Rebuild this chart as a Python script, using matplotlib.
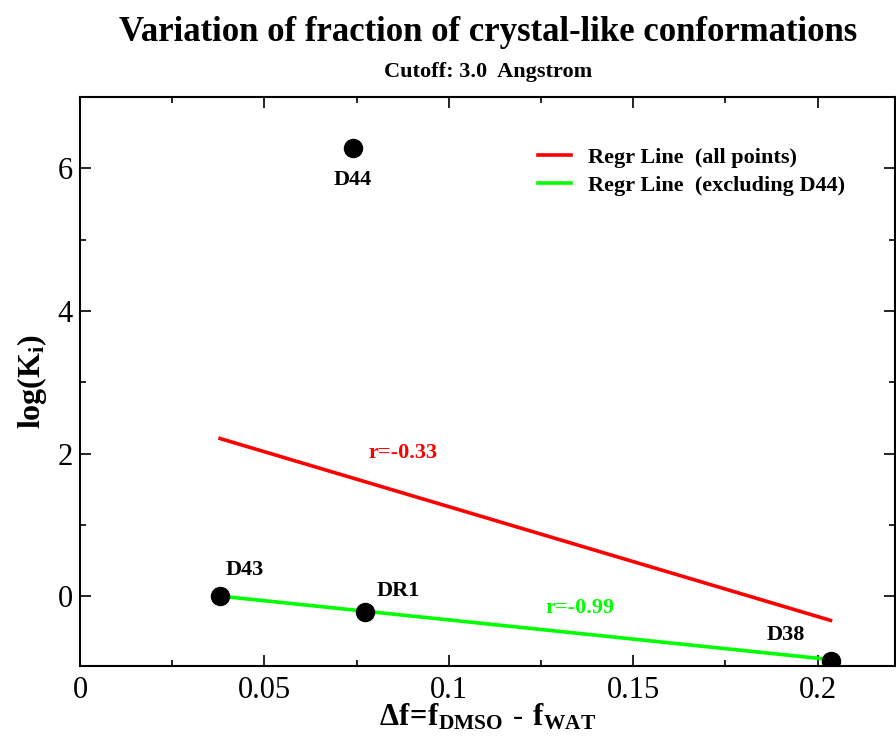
import matplotlib
matplotlib.use("Agg")
import matplotlib.pyplot as plt
from matplotlib.ticker import MultipleLocator

plt.rcParams['font.family'] = ['Liberation Serif', 'DejaVu Serif']
plt.rcParams['mathtext.fontset'] = 'custom'
plt.rcParams['mathtext.rm'] = 'Liberation Serif'
plt.rcParams['mathtext.bf'] = 'Liberation Serif:bold'

# data
names = ["D43", "DR1", "D38", "D44"]
dx = [0.0380, 0.0772, 0.2036, 0.0740]
logk = [0.0, -0.22, -0.905, 6.28]

regr_all_x = [0.038, 0.2035]
regr_all_y = [2.21, -0.34]
regr_excl_x = [0.038, 0.2035]
regr_excl_y = [0.0, -0.89]

fig = plt.figure(figsize=(8.96, 7.44), dpi=100)
L, R, T, B = 80, 895, 97, 666
ax = fig.add_axes([L/896, 1 - B/744, (R - L)/896, (B - T)/744])

ax.plot(regr_all_x, regr_all_y, color='#ff0000', lw=2.6, label='Regr Line  (all points)', zorder=2)
ax.plot(regr_excl_x, regr_excl_y, color='#00ff00', lw=2.6, label='Regr Line  (excluding D44)', zorder=2)
ax.plot(dx, logk, 'o', color='black', ms=13, ls='none', zorder=3)

offsets = {"D43": (0.0068, 0.36), "DR1": (0.0092, 0.29), "D38": (-0.0122, 0.36), "D44": (0.0, -0.45)}
for n, x, y in zip(names, dx, logk):
    ox, oy = offsets[n]
    ax.text(x + ox, y + oy, n, ha='center', va='center', fontsize=16, fontweight='bold')

ax.text(0.0875, 2.01, 'r=-0.33', color='#ff0000', ha='center', va='center', fontsize=16, fontweight='bold')
ax.text(0.1355, -0.16, 'r=-0.99', color='#00ff00', ha='center', va='center', fontsize=16, fontweight='bold')

ax.set_xlim(0, 0.221)
ax.set_ylim(-0.98, 7.0)
ax.xaxis.set_minor_locator(MultipleLocator(0.025))
ax.yaxis.set_minor_locator(MultipleLocator(1))
ax.set_xticks([0, 0.05, 0.1, 0.15, 0.2])
ax.set_xticklabels(['0', '0.05', '0.1', '0.15', '0.2'])
ax.set_yticks([0, 2, 4, 6])
ax.set_yticklabels(['0', '2', '4', '6'])
ax.tick_params(which='both', direction='in', top=True, right=True, width=1.2)
ax.tick_params(which='major', length=8, labelsize=22)
ax.tick_params(axis='x', which='major', pad=7)
ax.tick_params(axis='y', which='major', pad=5)
ax.tick_params(which='minor', length=4.5)
for s in ax.spines.values():
    s.set_linewidth(1.5)

ax.set_xlabel(r'$\mathbf{\Delta f\!=\!f_{DMSO}\ \text{-}\ f_{WAT}}$', fontsize=22, labelpad=-2)
ax.set_ylabel(r'$\mathbf{log(K_i)}$', fontsize=23, labelpad=6)

fig.text(488/896, 1 - 41/744, 'Variation of fraction of crystal-like conformations', ha='center', va='baseline',
         fontsize=25, fontweight='bold')
fig.text(488/896, 1 - 77/744, 'Cutoff: 3.0  Angstrom', ha='center', va='baseline', fontsize=16, fontweight='bold')

leg = ax.legend(loc='upper left', bbox_to_anchor=((538 - L)/(R - L), (B - 147)/(B - T)), frameon=False,
                prop={'weight': 'bold', 'size': 16}, handlelength=1.5, handletextpad=0.75,
                labelspacing=0.36, borderpad=0, borderaxespad=0)

fig.savefig('out.png', dpi=100)
